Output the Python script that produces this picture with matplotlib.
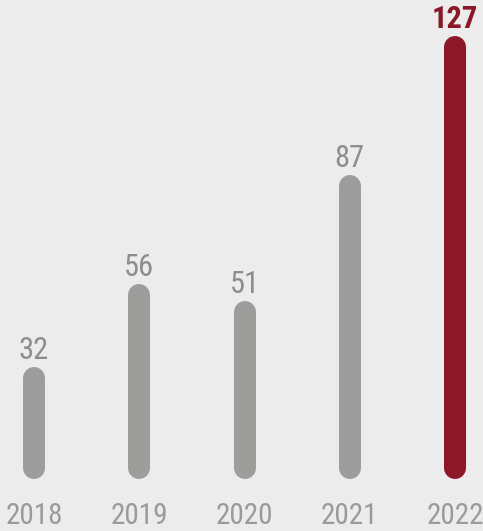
import matplotlib
matplotlib.use("Agg")
import matplotlib.pyplot as plt
from matplotlib import font_manager

years = ["2018", "2019", "2020", "2021", "2022"]
values = [32, 56, 51, 87, 127]
bar_colors = ["#9d9d9b", "#9d9d9b", "#9d9d9b", "#9d9d9b", "#8b1728"]
label_colors = ["#8d8d8d", "#8d8d8d", "#8d8d8d", "#8d8d8d", "#8b1728"]

installed = {f.name for f in font_manager.fontManager.ttflist}
family = "DejaVu Sans"
for name in ["Roboto Condensed", "Liberation Sans Narrow", "Open Sans Condensed", "DejaVu Sans Condensed"]:
    if name in installed:
        family = name
        break

bg = "#ececec"
fig = plt.figure(figsize=(4.83, 5.31), dpi=100, facecolor=bg)
ax = fig.add_axes([0, 0, 1, 1], facecolor=bg)

px_per_unit = 3.49
ax.set_ylim(-52 / px_per_unit, 479 / px_per_unit)
ax.set_xlim(-34 / 105.25, 4 + 28 / 105.25)

bar_px = 22
lw = bar_px * 72 / 100
r = (bar_px / 2) / px_per_unit

for i, v in enumerate(values):
    ax.plot([i, i], [r, v - r], color=bar_colors[i], lw=lw, solid_capstyle="round")
    ax.text(i, v + 8 / px_per_unit, str(v), ha="center", va="baseline",
            fontsize=22, color=label_colors[i], family=family,
            fontweight="bold" if i == len(values) - 1 else "normal")
    ax.text(i, -51.5 / px_per_unit, years[i], ha="center", va="bottom",
            fontsize=21, color="#9a9a9a", family=family)

ax.axis("off")
fig.savefig("out.png", dpi=100, facecolor=bg)
